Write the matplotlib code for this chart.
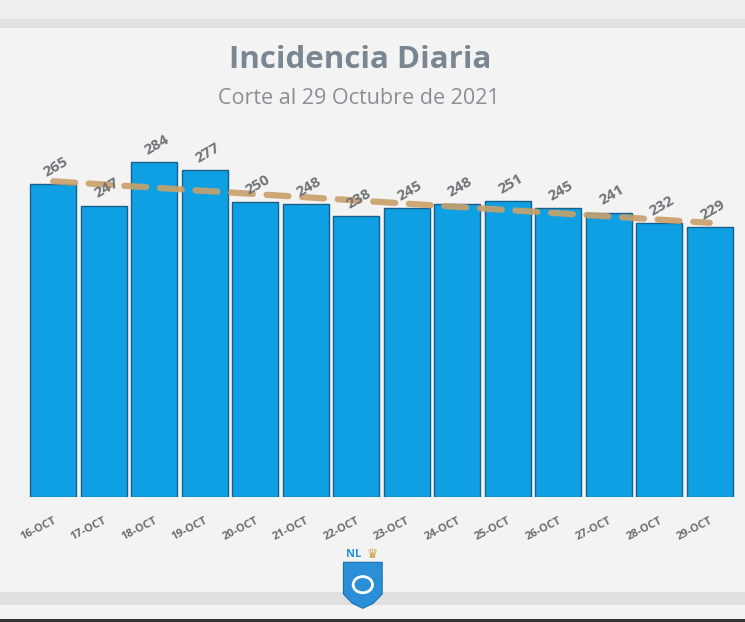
import numpy as np
import matplotlib.pyplot as plt
from matplotlib.patches import Rectangle, Polygon, Circle

# datos
fechas = ["16-OCT", "17-OCT", "18-OCT", "19-OCT", "20-OCT", "21-OCT", "22-OCT",
          "23-OCT", "24-OCT", "25-OCT", "26-OCT", "27-OCT", "28-OCT", "29-OCT"]
casos = [265, 247, 284, 277, 250, 248, 238, 245, 248, 251, 245, 241, 232, 229]

fondo = "#f3f3f3"
azul = "#0ea0e2"
gris = "#707478"

fig = plt.figure(figsize=(7.45, 6.22), dpi=100, facecolor=fondo)

# franjas del fondo (captura de pantalla)
fig.patches.append(Rectangle((0, 0.965), 1, 0.035, transform=fig.transFigure,
                             facecolor="#eeeeee", edgecolor="none", zorder=0))
fig.patches.append(Rectangle((0, 0.955), 1, 0.014, transform=fig.transFigure,
                             facecolor="#e0e0e0", edgecolor="none", zorder=0))
fig.patches.append(Rectangle((0, 0.027), 1, 0.022, transform=fig.transFigure,
                             facecolor="#e0e0e0", edgecolor="none", zorder=0))
fig.patches.append(Rectangle((0, 0), 1, 0.005, transform=fig.transFigure,
                             facecolor="#333333", edgecolor="none", zorder=0))

ax = fig.add_axes([0.0376, 0.201, 0.949, 0.569])
ax.set_facecolor(fondo)

x = np.arange(len(casos))
ax.bar(x, casos, width=0.91, color=azul, edgecolor="#1a5e8c", linewidth=1.0, zorder=2)

# linea de tendencia lineal
m, b = np.polyfit(x, casos, 1)
ax.plot(x, m * x + b, color="#c9a069", linewidth=4.5, linestyle=(0, (3.5, 2.2)),
        alpha=0.9, zorder=3, dash_capstyle="round")

for xi, v in zip(x, casos):
    ax.text(xi + 0.05, v + 4, str(v), rotation=30, ha="center", va="bottom",
            fontsize=11, fontweight="bold", color=gris, family="Open Sans", zorder=4)

ax.set_xlim(-0.5, len(casos) - 0.5)
ax.set_ylim(0, 300)
ax.set_xticks(x)
ax.set_xticklabels(fechas, rotation=27, ha="right", rotation_mode="anchor",
                   fontsize=8, fontweight="bold", color="#6a6e72", family="Open Sans")
ax.tick_params(axis="x", length=0, pad=13)
ax.set_yticks([])
for s in ax.spines.values():
    s.set_visible(False)

fig.text(0.484, 0.903, "Incidencia Diaria", ha="center", va="center",
         fontsize=22.5, fontweight="bold", color="#7a8793", family="Open Sans")
fig.text(0.482, 0.842, "Corte al 29 Octubre de 2021", ha="center", va="center",
         fontsize=15.5, color="#8a8f95", family="Open Sans")

# escudo NL
escudo = Polygon([[0.461, 0.096], [0.461, 0.045], [0.473, 0.030], [0.487, 0.022],
                  [0.501, 0.030], [0.513, 0.045], [0.513, 0.096]],
                 closed=True, transform=fig.transFigure, facecolor="#2a8fd6",
                 edgecolor="#1c6fb0", linewidth=0.8, zorder=5)
fig.patches.append(escudo)
fig.patches.append(Circle((0.487, 0.060), 0.013, transform=fig.transFigure,
                          facecolor="none", edgecolor="white", linewidth=2, zorder=6))
fig.text(0.474, 0.109, "NL", ha="center", va="center", fontsize=8,
         fontweight="bold", color="#2a8fd6", family="Open Sans")
fig.text(0.500, 0.109, "♛", ha="center", va="center", fontsize=9,
         color="#c9a441", family="DejaVu Sans")

fig.savefig("out.png", dpi=100, facecolor=fondo)
